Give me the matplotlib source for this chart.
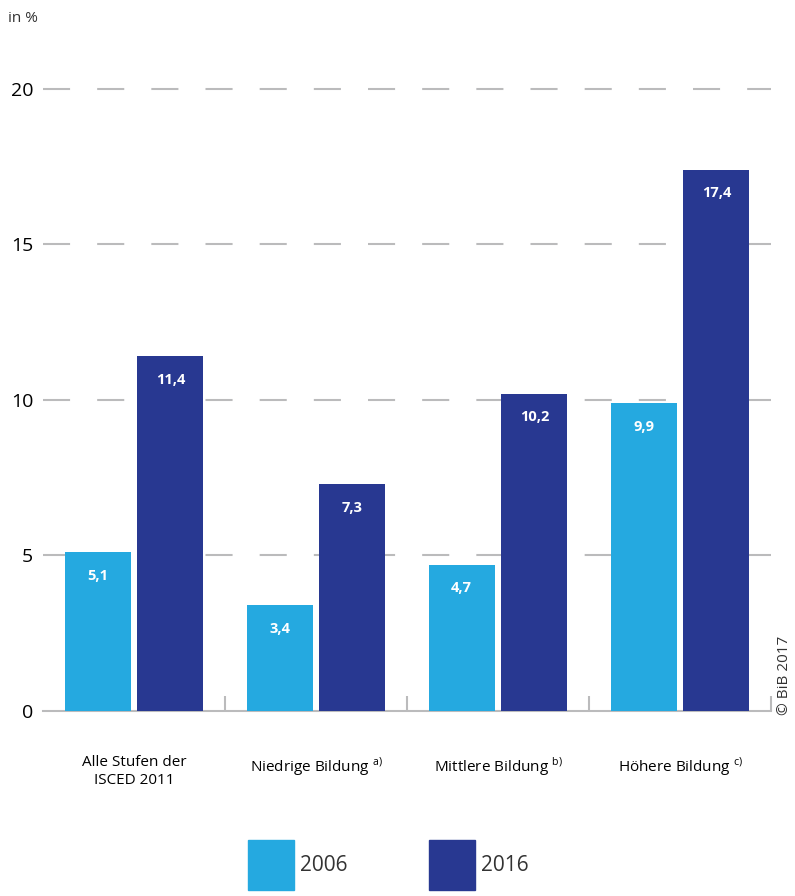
import matplotlib.pyplot as plt
from matplotlib.patches import Patch

plt.rcParams['font.family'] = ['Open Sans', 'DejaVu Sans']
plt.rcParams['mathtext.fontset'] = 'custom'
plt.rcParams['mathtext.rm'] = 'Open Sans'
plt.rcParams['text.color'] = '#333333'

categories = ['Alle Stufen der\nISCED 2011', 'Niedrige Bildung $^{\\mathrm{a)}}$',
              'Mittlere Bildung $^{\\mathrm{b)}}$', 'Höhere Bildung $^{\\mathrm{c)}}$']
years = ['2006', '2016']
values_2006 = [5.1, 3.4, 4.7, 9.9]
values_2016 = [11.4, 7.3, 10.2, 17.4]
colors = ['#25A9E0', '#283891']
grey = '#BBBBBC'

fig = plt.figure(figsize=(7.95, 8.96), dpi=100)
ax = fig.add_axes([0.0541, 0.2065, 0.9157, 0.6942])

x = range(len(categories))
w = 0.363
b1 = ax.bar([i - 0.2 for i in x], values_2006, w, color=colors[0], zorder=3)
b2 = ax.bar([i + 0.2 for i in x], values_2016, w, color=colors[1], zorder=3)

for bars, vals in [(b1, values_2006), (b2, values_2016)]:
    for r, v in zip(bars, vals):
        ax.annotate(f'{v:.1f}'.replace('.', ','),
                    (r.get_x() + r.get_width() / 2, r.get_height()),
                    xytext=(0, -17), textcoords='offset points',
                    ha='center', va='center', color='white',
                    fontsize=10.5, fontweight='bold', zorder=4)

ax.set_xlim(-0.5, 3.5)
ax.set_ylim(0, 20)
ax.set_yticks([0, 5, 10, 15, 20])
ax.set_yticklabels(['0', '5', '10', '15', '20'], fontsize=14)
ax.tick_params(axis='y', length=0, pad=7)
for yv in [5, 10, 15, 20]:
    ax.axhline(yv, color=grey, lw=1.5, dashes=(13, 13), zorder=1, clip_on=False)

ax.set_xticks(list(x))
ax.set_xticklabels(categories, fontsize=11)
ax.tick_params(axis='x', length=0, pad=32)
ax.set_xticks([0.5, 1.5, 2.5, 3.5], minor=True)
ax.tick_params(axis='x', which='minor', direction='in', length=11, width=1.5, color=grey)

for s in ['top', 'right', 'left']:
    ax.spines[s].set_visible(False)
ax.spines['bottom'].set_color(grey)
ax.spines['bottom'].set_linewidth(1.5)

fig.text(8 / 795, 1 - 18 / 896, 'in %', fontsize=11, va='center', ha='left')
fig.text(785 / 795, 1 - 675 / 896, '© BiB 2017', fontsize=11, rotation=90,
         ha='center', va='center')

handles = [Patch(color=c, label=y) for c, y in zip(colors, years)]
fig.legend(handles=handles, loc='upper left', bbox_to_anchor=(248 / 795, 1 - 840 / 896),
           ncol=2, frameon=False, fontsize=15, handlelength=2.2, handleheight=3.3,
           handletextpad=0.3, columnspacing=3.9, borderpad=0, borderaxespad=0)

plt.savefig('out.png', dpi=100)
plt.close()
